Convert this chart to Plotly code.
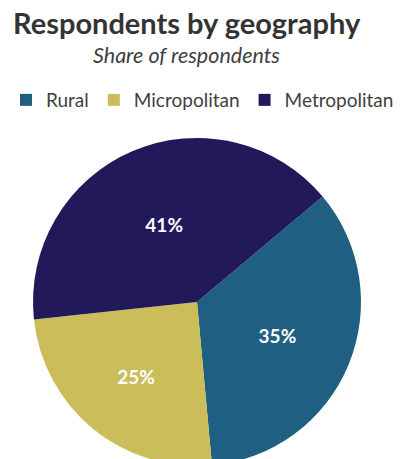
import plotly.graph_objects as go

# Share of respondents by geography (percent)
categories = ["Rural", "Micropolitan", "Metropolitan"]
shares = [35, 25, 41]
colors = ["#1E5F82", "#CABD5A", "#22195B"]

W, H = 409, 480  # canvas is taller than the viewport so the pie runs off the bottom edge


def py(px):
    """Convert a pixel offset from the top into paper coordinates."""
    return 1 - px / H


fig = go.Figure(
    go.Pie(
        labels=categories,
        values=shares,
        marker=dict(colors=colors, line=dict(width=0)),
        sort=False,
        direction="clockwise",
        rotation=50,
        texttemplate="%{value}%",
        textposition="inside",
        insidetextorientation="horizontal",
        insidetextfont=dict(family="Lato", size=19, color="white", weight="bold"),
        hoverinfo="label+percent",
        domain=dict(x=[33 / W, 361 / W], y=[py(466), py(138)]),
    )
)

fig.update_layout(
    width=W,
    height=H,
    margin=dict(l=0, r=0, t=0, b=0),
    paper_bgcolor="white",
    plot_bgcolor="white",
    title=dict(
        text="<b>Respondents by geography</b>",
        font=dict(family="Lato", size=29, color="#333333"),
        x=13 / W,
        xanchor="left",
        xref="paper",
        y=py(24),
        yanchor="middle",
        yref="container",
    ),
    annotations=[
        dict(
            text="<i>Share of respondents</i>",
            x=186 / W,
            y=py(55),
            xref="paper",
            yref="paper",
            xanchor="center",
            yanchor="middle",
            showarrow=False,
            font=dict(family="Lato", size=21.5, color="#404040"),
        )
    ],
    legend=dict(
        orientation="h",
        x=6 / W,
        xanchor="left",
        y=py(100),
        yanchor="middle",
        font=dict(family="Lato", size=19, color="#404040"),
        bgcolor="rgba(0,0,0,0)",
    ),
    showlegend=True,
)

fig.write_html(
    "out.html",
    config={"displayModeBar": False},
    post_script="document.body.style.overflow='hidden';document.documentElement.style.overflow='hidden';",
)
